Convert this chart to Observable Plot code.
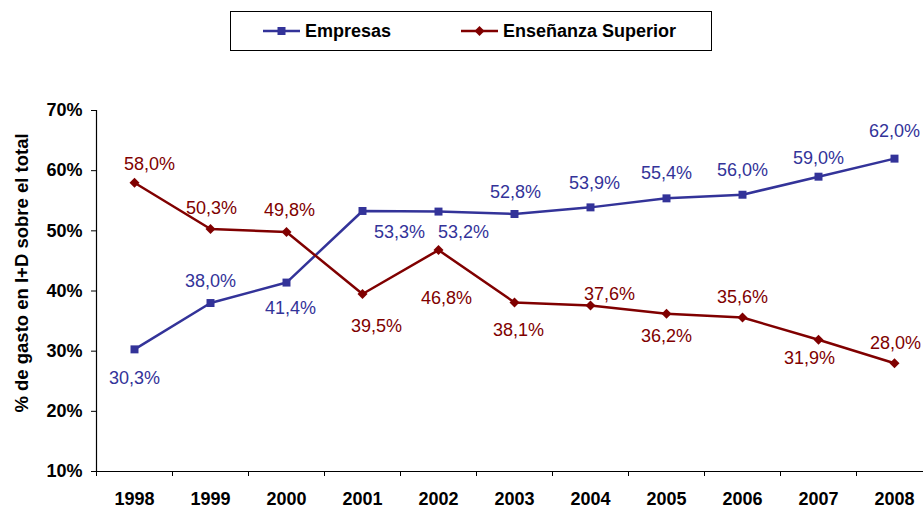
<!DOCTYPE html>
<html>
<head>
<meta charset="utf-8">
<script src="https://cdn.jsdelivr.net/npm/d3@7"></script>
<script src="https://cdn.jsdelivr.net/npm/@observablehq/plot@0.6"></script>
<style>
  body { margin: 0; background: #fff; font-family: "Liberation Sans", Arial, sans-serif; }
  #wrap { position: relative; width: 923px; height: 508px; overflow: hidden; background: #fff; }
  #chart { position: absolute; left: 0; top: 0; }
  #legend { position: absolute; left: 230px; top: 11px; width: 480px; height: 38px; border: 1px solid #000; background: #fff; z-index: 2; }
  .sw { position: absolute; top: 9px; }
  .lt { position: absolute; top: 0; line-height: 38px; font-size: 18px; font-weight: bold; color: #000; white-space: nowrap; }
</style>
</head>
<body>
<div id="wrap">
  <div id="chart"></div>
  <div id="legend"></div>
</div>
<script>
// ---- data ----
const years = [1998, 1999, 2000, 2001, 2002, 2003, 2004, 2005, 2006, 2007, 2008];
const empresas = [30.3, 38.0, 41.4, 53.3, 53.2, 52.8, 53.9, 55.4, 56.0, 59.0, 62.0];
const superior = [58.0, 50.3, 49.8, 39.5, 46.8, 38.1, 37.6, 36.2, 35.6, 31.9, 28.0];
const yTicks = [10, 20, 30, 40, 50, 60, 70];
const seriesNames = ["Empresas", "Enseñanza Superior"];
const yTitle = "% de gasto en I+D sobre el total";

// ---- style / layout ----
const colors = ["#333399", "#800000"];
const empOff = [[0,29],[0,-22],[4,26],[37,21],[25,21],[1,-22],[4,-24],[0,-25],[0,-24],[0,-18],[0,-27]];
const supOff = [[15,-18],[1,-21],[3,-22],[14,32],[8,48],[4,28],[19,-11],[0,22],[0,-20],[-9,18],[1,-20]];

const fmt = v => v.toFixed(1).replace(".", ",") + "%";
const rowsE = years.map((y, i) => ({year: y, value: empresas[i]}));
const rowsS = years.map((y, i) => ({year: y, value: superior[i]}));
const bounds = years.map(y => y - 0.5).concat([years[years.length - 1] + 0.5]);

const labelMarks = (rows, offs, color) => rows.map((d, i) =>
  Plot.text([d], {x: "year", y: "value", text: r => fmt(r.value), dx: offs[i][0], dy: offs[i][1],
    fill: color, fontSize: 18, fontWeight: "normal"}));

const chart = Plot.plot({
  width: 923,
  height: 508,
  marginTop: 110,
  marginBottom: 37,
  marginLeft: 96,
  marginRight: 0,
  style: {fontFamily: '"Liberation Sans", Arial, sans-serif', color: "#000", background: "#fff", overflow: "hidden"},
  x: {type: "linear", domain: [bounds[0], bounds[bounds.length - 1]], range: [96, 932]},
  y: {type: "linear", domain: [10, 70]},
  marks: [
    Plot.axisY({ticks: yTicks, tickFormat: d => d + "%", tickSize: 5, tickPadding: 9, fontSize: 18, fontWeight: "bold", label: null, stroke: "#000", fill: "#000"}),
    Plot.axisX({ticks: bounds, tickFormat: () => "", tickSize: 5, label: null, stroke: "#000"}),
    Plot.axisX({ticks: years, tickFormat: d => String(d), tickSize: 0, tickPadding: 21, fontSize: 18, fontWeight: "bold", label: null, fill: "#000"}),
    Plot.ruleX([bounds[0]], {stroke: "#000", strokeWidth: 1.2}),
    Plot.ruleY([10], {stroke: "#000", strokeWidth: 1.2}),
    Plot.text([yTitle], {frameAnchor: "left", textAnchor: "middle", rotate: -90, dx: -74, dy: -18, fontSize: 18.5, fontWeight: "bold", fill: "#000"}),
    Plot.line(rowsE, {x: "year", y: "value", stroke: colors[0], strokeWidth: 2.5}),
    Plot.line(rowsS, {x: "year", y: "value", stroke: colors[1], strokeWidth: 2.5}),
    Plot.dot(rowsE, {x: "year", y: "value", symbol: "square", r: 4.5, fill: colors[0], stroke: null}),
    Plot.dot(rowsS, {x: "year", y: "value", symbol: "diamond2", r: 4.5, fill: colors[1], stroke: null}),
    ...labelMarks(rowsE, empOff, colors[0]),
    ...labelMarks(rowsS, supOff, colors[1])
  ]
});
document.getElementById("chart").appendChild(chart);

// ---- legend ----
const legend = document.getElementById("legend");
const items = [
  {name: seriesNames[0], color: colors[0], sym: "square", swLeft: 32, txtLeft: 74},
  {name: seriesNames[1], color: colors[1], sym: "diamond", swLeft: 230, txtLeft: 272}
];
items.forEach(it => {
  const marker = it.sym === "square"
    ? `<rect x="14.5" y="6" width="8" height="8" fill="${it.color}"/>`
    : `<path d="M18.5 5 L23.5 10 L18.5 15 L13.5 10 Z" fill="${it.color}"/>`;
  const sw = document.createElement("div");
  sw.className = "sw";
  sw.style.left = it.swLeft + "px";
  sw.innerHTML = `<svg width="37" height="20"><line x1="0" y1="10" x2="37" y2="10" stroke="${it.color}" stroke-width="2.5"/>${marker}</svg>`;
  legend.appendChild(sw);
  const t = document.createElement("div");
  t.className = "lt";
  t.style.left = it.txtLeft + "px";
  t.textContent = it.name;
  legend.appendChild(t);
});
</script>
</body>
</html>
